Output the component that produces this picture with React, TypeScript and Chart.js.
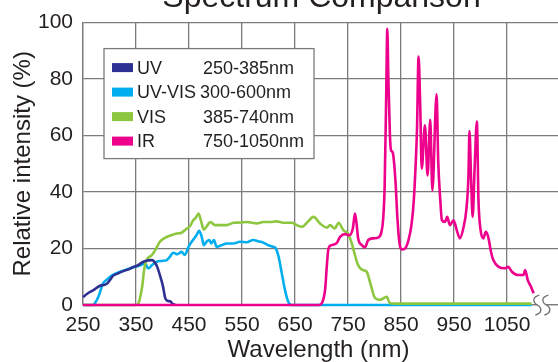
import React, { useEffect, useRef } from 'react';
import { Chart, registerables } from 'chart.js';

Chart.register(...registerables);

const TITLE = 'Spectrum Comparison';
const X_TITLE = 'Wavelength (nm)';
const Y_TITLE = 'Relative intensity (%)';
const X_TICKS = [250, 350, 450, 550, 650, 750, 850, 950, 1050];
const Y_TICKS = [0, 20, 40, 60, 80, 100];
const X_MIN = 250;
const X_MAX = 1146;
const BREAK_AT = [1107, 1124];

const SERIES_NAMES = ['UV', 'UV-VIS', 'VIS', 'IR'];
const SERIES_RANGES = ['250-385nm', '300-600nm', '385-740nm', '750-1050nm'];
const SERIES_COLORS = ['#2e3192', '#00aeef', '#8dc63f', '#ec008c'];

// [wavelength nm, relative intensity %]
const UV_SERIES: [number, number][] = [
  [250, 2.8], [258, 4.0], [269, 5.2], [282, 6.8], [295, 7.5], [301, 8.9], [307, 10.4],
  [314, 11.0], [326, 12.0], [339, 12.9], [345, 13.5], [351, 13.8], [364, 15.3], [373, 15.8],
  [380, 15.9], [385, 15.2], [390, 13.5], [395, 10.6], [401, 6.5], [405, 2.5], [409, 1.5],
  [414, 1.3], [420, 0.3], [425, 0],
];

const UVVIS_SERIES: [number, number][] = [
  [250, 0], [268, 0], [273, 0.8], [279, 2.9], [288, 7.7], [295, 9.0], [301, 10.0], [310, 11.0],
  [320, 11.8], [330, 12.4], [339, 13.0], [350, 13.6], [358, 14.1], [367, 14.7], [373, 13.0],
  [380, 14.1], [389, 15.3], [398, 15.6], [408, 15.9], [414, 17.1], [420, 18.5], [428, 18.0],
  [436, 18.8], [442, 17.7], [449, 20.6], [455, 22.4], [464, 24.7], [469, 26.3], [474, 24.1],
  [478, 21.2], [483, 22.4], [488, 23.0], [492, 21.8], [497, 23.0], [502, 20.6], [512, 21.2],
  [521, 21.8], [534, 21.8], [546, 22.4], [559, 22.2], [571, 23.0], [580, 22.6], [590, 22.1],
  [599, 21.2], [609, 20.6], [614, 20.0], [619, 17.1], [625, 11.2], [631, 5.3], [637, 1.2],
  [643, 0], [1096, 0],
];

const VIS_SERIES: [number, number][] = [
  [250, 0], [350, 0], [354, 0.3], [358, 2.9], [362, 7], [365, 12], [368, 15], [372, 16.5],
  [380, 17.7], [388, 20], [395, 22.4], [402, 23.5], [408, 24.1], [418, 24.8], [427, 25.3],
  [436, 25.6], [446, 27.1], [452, 28], [458, 30], [463, 31], [468, 32.4], [473, 29.5],
  [478, 26.7], [484, 28], [490, 29.4], [499, 28.3], [510, 28.3], [521, 28.3], [534, 29.1],
  [546, 29.2], [559, 29.4], [578, 28.9], [590, 29.4], [603, 29.4], [615, 29.6], [628, 29.1],
  [644, 29.1], [653, 28.3], [663, 27.7], [674, 29.5], [685, 31.2], [697, 28.9], [710, 27.4],
  [716, 28.3], [725, 27.1], [732, 29.1], [741, 26.5], [750, 25.3], [757, 21.8], [763, 17.7],
  [768, 14.5], [773, 13], [779, 12.3], [785, 11.8], [792, 7.7], [801, 2.4], [810, 1.8],
  [817, 2.4], [823, 2.9], [829, 0.6], [840, 0.5], [1096, 0.5],
];

const IR_SERIES: [number, number][] = [
  [250, 0], [695, 0], [700, 0.5], [704, 2.5], [707, 6], [710, 14], [713, 20], [719, 21.2],
  [728, 21.8], [735, 24.1], [744, 25.1], [752, 24.7], [759, 27.1], [763, 32.4], [766, 28.9],
  [769, 23.6], [776, 21.2], [782, 20.4], [788, 23], [798, 23.6], [807, 23.9], [813, 25.9],
  [816, 30], [819, 42], [822, 75], [824, 97.8], [826, 80], [829, 60], [831, 54.8], [834, 54.2],
  [837, 50], [840, 42], [843, 31], [847, 21.8], [851, 19.7], [856, 19.8], [864, 23], [870, 28.9],
  [874, 37.1], [877, 47.7], [880, 62], [883, 88], [886, 71.3], [889, 48.3], [895, 63.6],
  [900, 45.9], [905, 65.6], [909, 40.6], [917, 74.6], [920, 51.2], [924, 37.1], [927, 30],
  [933, 29.4], [937, 31.2], [942, 28.3], [949, 30], [955, 26.5], [961, 23.6], [968, 27.7],
  [973, 33.6], [977, 45.3], [979, 61.6], [982, 45], [985, 31.2], [989, 50], [993, 65],
  [996, 37.1], [1000, 26.5], [1005, 23.6], [1010, 25.9], [1015, 23.6], [1019, 19.4],
  [1024, 15.9], [1034, 13.5], [1046, 13], [1052, 13.5], [1059, 11.8], [1071, 10.6],
  [1081, 10.6], [1084, 12.4], [1089, 8.8], [1095, 6.5], [1100, 4.2],
];

const SERIES_DATA = [UV_SERIES, UVVIS_SERIES, VIS_SERIES, IR_SERIES];
// drawing order: lower number is drawn on top
const SERIES_ORDER = [2, 4, 3, 1];

const FONT = '"Liberation Sans", Arial, Helvetica, sans-serif';
const TEXT_COLOR = '#231f20';
const GRID_COLOR = '#7b7b7b';

const overlayPlugin = {
  id: 'overlay',
  afterDraw(chart: any) {
    const { ctx, chartArea: a } = chart;
    const xs = chart.scales.x;
    const ys = chart.scales.y;
    ctx.save();
    ctx.fillStyle = TEXT_COLOR;
    ctx.textAlign = 'center';
    ctx.textBaseline = 'alphabetic';
    // title (partly clipped at the top)
    ctx.font = `32px ${FONT}`;
    ctx.fillText(TITLE, (a.left + a.right) / 2 + 1, 6.5);
    // x title
    ctx.font = `24px ${FONT}`;
    ctx.fillText(X_TITLE, (a.left + a.right) / 2 - 2, 357);
    // y title
    ctx.save();
    ctx.translate(22, (a.top + a.bottom) / 2);
    ctx.rotate(-Math.PI / 2);
    ctx.fillText(Y_TITLE, 0, 8);
    ctx.restore();

    // axis break symbol
    const y0 = ys.getPixelForValue(0);
    const bx0 = xs.getPixelForValue(BREAK_AT[0]);
    const bx1 = xs.getPixelForValue(BREAK_AT[1]);
    ctx.fillStyle = '#ffffff';
    ctx.fillRect(bx0, y0 - 2, bx1 - bx0, 4);
    ctx.strokeStyle = '#6d6d6d';
    ctx.lineWidth = 1.3;
    for (const cx of [bx0, bx1]) {
      ctx.beginPath();
      ctx.moveTo(cx + 2, y0 - 10);
      ctx.bezierCurveTo(cx - 5, y0 - 8, cx - 5, y0 - 3, cx, y0);
      ctx.bezierCurveTo(cx + 5, y0 + 3, cx + 5, y0 + 8, cx - 2, y0 + 10);
      ctx.stroke();
    }

    // legend
    const lx = a.left + 21;
    const ly = a.top + 26;
    const lw = 210;
    const lh = 110;
    ctx.fillStyle = '#ffffff';
    ctx.fillRect(lx, ly, lw, lh);
    ctx.strokeStyle = GRID_COLOR;
    ctx.lineWidth = 1.3;
    ctx.strokeRect(lx, ly, lw, lh);
    ctx.font = `18px ${FONT}`;
    ctx.textAlign = 'left';
    ctx.textBaseline = 'middle';
    SERIES_NAMES.forEach((name, i) => {
      const cy = ly + 19 + i * 24.5;
      ctx.fillStyle = SERIES_COLORS[i];
      ctx.fillRect(lx + 8, cy - 4.5, 21, 9);
      ctx.fillStyle = TEXT_COLOR;
      ctx.fillText(name, lx + 33, cy + 1);
      ctx.fillText(SERIES_RANGES[i], lx + (i === 1 ? 96 : 99), cy + 1);
    });
    ctx.restore();
  },
};

export default function App() {
  const canvasRef = useRef<HTMLCanvasElement | null>(null);

  useEffect(() => {
    const canvas = canvasRef.current;
    if (!canvas) return;
    const chart = new Chart(canvas, {
      type: 'line',
      data: {
        datasets: SERIES_DATA.map((series, i) => ({
          label: SERIES_NAMES[i],
          data: series.map(([x, y]) => ({ x, y })),
          borderColor: SERIES_COLORS[i],
          backgroundColor: SERIES_COLORS[i],
          borderWidth: 2.6,
          pointRadius: 0,
          pointHoverRadius: 0,
          fill: false,
          cubicInterpolationMode: 'monotone' as const,
          order: SERIES_ORDER[i],
          clip: 4,
        })),
      },
      options: {
        responsive: false,
        animation: false,
        devicePixelRatio: 1,
        events: [],
        layout: { padding: { top: 22, right: 0, left: 0, bottom: 0 } },
        plugins: {
          legend: { display: false },
          tooltip: { enabled: false },
          title: { display: false },
        },
        scales: {
          x: {
            type: 'linear',
            min: X_MIN,
            max: X_MAX,
            afterBuildTicks: (s: any) => {
              s.ticks = X_TICKS.map((v) => ({ value: v }));
            },
            afterFit: (s: any) => {
              s.height = 57;
            },
            grid: { color: GRID_COLOR, lineWidth: 1.3, drawTicks: false },
            border: { color: GRID_COLOR, width: 1.3 },
            ticks: {
              font: { size: 21, family: FONT },
              color: TEXT_COLOR,
              padding: 8,
              maxRotation: 0,
              autoSkip: false,
              callback: (v: any) => String(v),
            },
          },
          y: {
            type: 'linear',
            min: 0,
            max: 100,
            afterBuildTicks: (s: any) => {
              s.ticks = Y_TICKS.map((v) => ({ value: v }));
            },
            afterFit: (s: any) => {
              s.width = 83;
            },
            grid: { color: GRID_COLOR, lineWidth: 1.3, drawTicks: false },
            border: { color: GRID_COLOR, width: 1.3 },
            ticks: {
              font: { size: 21, family: FONT },
              color: TEXT_COLOR,
              padding: 10,
              callback: (v: any) => String(v),
            },
          },
        },
      },
      plugins: [overlayPlugin],
    });
    return () => chart.destroy();
  }, []);

  return (
    <div style={{ position: 'absolute', left: 0, top: 0, width: 558, height: 362, overflow: 'hidden', background: '#fff' }}>
      <canvas ref={canvasRef} width={558} height={362} style={{ display: 'block' }} />
    </div>
  );
}
